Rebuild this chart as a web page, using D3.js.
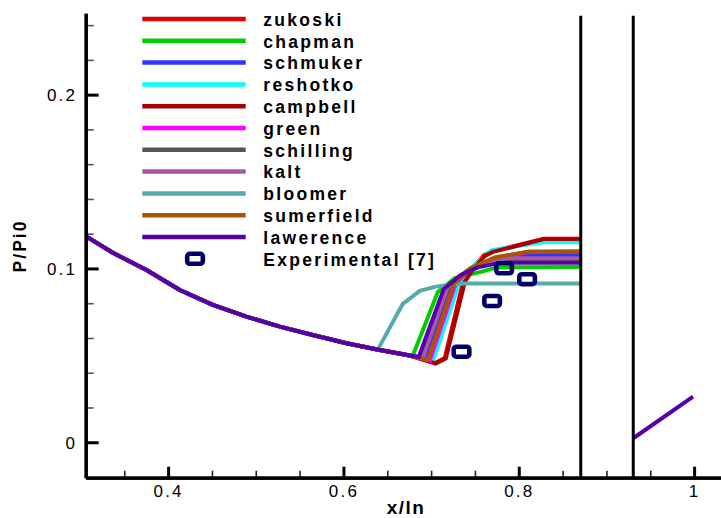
<!DOCTYPE html>
<html>
<head>
<meta charset="utf-8">
<script src="https://cdn.jsdelivr.net/npm/d3@7"></script>
<style>
    body { margin: 0; background: #fff; }
    svg { display: block; font-family: "Liberation Sans", Arial, sans-serif; }
</style>
</head>
<body>
<div id="chart"></div>
<script>
// shared upstream branch (before the shock)
let upstreamX = [0.3069, 0.3369, 0.3754, 0.4133, 0.4510, 0.4894, 0.5274, 0.5650, 0.6035, 0.6415, 0.6757];
let upstreamY = [0.1183, 0.1090, 0.0991, 0.0876, 0.0790, 0.0723, 0.0665, 0.0617, 0.0570, 0.0531, 0.0499];

// downstream branch behind the second wall
let downstreamX = [0.9306, 0.9988];
let downstreamY = [0.0023, 0.0262];

let names = ["zukoski", "chapman", "schmuker", "reshotko", "campbell", "green",
             "schilling", "kalt", "bloomer", "sumerfield", "lawerence"];
let colors = ["#dd0000", "#00cc00", "#3333ff", "#00ffff", "#aa0000", "#ff00ff",
              "#555555", "#aa55aa", "#55aaaa", "#aa5500", "#5500aa"];

// shock region of every correlation
let shockX = [
    [0.7042, 0.7156, 0.7362, 0.7453, 0.7601, 0.7692, 0.8285, 0.8708], // zukoski
    [0.6791, 0.7077, 0.7271, 0.7579, 0.7750, 0.8708],                 // chapman
    [0.6939, 0.7224, 0.7407, 0.7624, 0.7921, 0.8708],                 // schmuker
    [0.7019, 0.7327, 0.7487, 0.7692, 0.8274, 0.8708],                 // reshotko
    [0.7053, 0.7168, 0.7385, 0.7464, 0.7613, 0.7704, 0.8297, 0.8708], // campbell
    [0.6985, 0.7282, 0.7462, 0.7745, 0.8120, 0.8708],                 // green
    [0.6882, 0.7168, 0.7362, 0.7556, 0.7818, 0.8708],                 // schilling
    [0.6905, 0.7191, 0.7385, 0.7590, 0.7853, 0.8708],                 // kalt
    [0.6392, 0.6677, 0.6871, 0.7042, 0.7190, 0.7384, 0.8708],         // bloomer
    [0.6962, 0.7259, 0.7442, 0.7727, 0.8103, 0.8708],                 // sumerfield
    [0.6859, 0.7145, 0.7339, 0.7533, 0.7784, 0.8708]                  // lawerence
];
let shockY = [
    [0.0456, 0.0485, 0.0917, 0.0991, 0.1075, 0.1098, 0.1171, 0.1171],
    [0.0498, 0.0865, 0.0944, 0.0982, 0.1006, 0.1009],
    [0.0482, 0.0899, 0.0986, 0.1035, 0.1077, 0.1078],
    [0.0465, 0.0925, 0.1017, 0.1106, 0.1150, 0.1151],
    [0.0453, 0.0482, 0.0922, 0.0986, 0.1072, 0.1095, 0.1170, 0.1170],
    [0.0470, 0.0915, 0.1002, 0.1064, 0.1096, 0.1097],
    [0.0488, 0.0888, 0.0968, 0.1014, 0.1043, 0.1044],
    [0.0485, 0.0894, 0.0977, 0.1023, 0.1058, 0.1059],
    [0.0533, 0.0796, 0.0871, 0.0894, 0.0905, 0.0913, 0.0913],
    [0.0474, 0.0911, 0.1000, 0.1063, 0.1096, 0.1097],
    [0.0491, 0.0882, 0.0963, 0.1006, 0.1032, 0.1033]
];

let expX = [0.7347, 0.7696, 0.7833, 0.8095];
let expY = [0.0521, 0.0813, 0.1001, 0.0938];
let expLabel = "Experimental [7]";

let wallX = [0.8707, 0.9306];

let xMajor = [0.4, 0.6, 0.8, 1.0];
let yMajor = [0, 0.1, 0.2];

const W = 721, H = 518;

let x = d3.scaleLinear()
    .domain([0.306, 1.03])
    .range([85.7, 720.4]);
let y = d3.scaleLinear()
    .domain([-0.0204, 0.2468])
    .range([477.7, 13.3]);

let svg = d3.select("#chart")
    .append("svg")
        .attr("width", W)
        .attr("height", H);

let line = d3.line()
    .x(d => x(d[0]))
    .y(d => y(d[1]));

// series: upstream part up to where each curve leaves it, then its own shock points
let series = names.map((n, i) => {
    let pts = [];
    upstreamX.forEach((ux, j) => {
        if (ux < shockX[i][0]) pts.push([ux, upstreamY[j]]);
    });
    shockX[i].forEach((sx, j) => pts.push([sx, shockY[i][j]]));
    return {name: n, color: colors[i], pts: pts};
});

svg.append("g")
    .selectAll("path")
    .data(series)
    .enter()
    .append("path")
        .attr("fill", "none")
        .attr("stroke", d => d.color)
        .attr("stroke-width", 4)
        .attr("d", d => line(d.pts));

svg.append("path")
    .datum(downstreamX.map((v, i) => [v, downstreamY[i]]))
    .attr("fill", "none")
    .attr("stroke", colors[colors.length - 1])
    .attr("stroke-width", 4)
    .attr("d", line);

// experimental points
svg.append("g")
    .selectAll("rect")
    .data(expX.map((v, i) => [v, expY[i]]))
    .enter()
    .append("rect")
        .attr("x", d => x(d[0]) - 7.8)
        .attr("y", d => y(d[1]) - 5)
        .attr("width", 15.6)
        .attr("height", 10)
        .attr("rx", 2.5)
        .attr("fill", "none")
        .attr("stroke", "#000066")
        .attr("stroke-width", 4.6);

// walls
svg.append("g")
    .selectAll("line")
    .data(wallX)
    .enter()
    .append("line")
        .attr("x1", d => x(d))
        .attr("x2", d => x(d))
        .attr("y1", y.range()[1] + 2.5)
        .attr("y2", y.range()[0])
        .attr("stroke", "#000")
        .attr("stroke-width", 3);

// axes
let xMinor = d3.range(0.35, 1.0001, 0.05).filter(v => !xMajor.some(m => Math.abs(m - v) < 1e-6));
let yMinor = d3.range(0.02, 0.2401, 0.02).filter(v => !yMajor.some(m => Math.abs(m - v) < 1e-6));

let xAxisMajor = d3.axisBottom(x).tickValues(xMajor).tickSizeInner(-11).tickSizeOuter(0)
    .tickFormat(d => d === 1 ? "1" : d3.format(".1f")(d)).tickPadding(7);
let xAxisMinor = d3.axisBottom(x).tickValues(xMinor).tickSizeInner(-7).tickSizeOuter(0).tickFormat("");
let yAxisMajor = d3.axisLeft(y).tickValues(yMajor).tickSizeInner(-13).tickSizeOuter(0)
    .tickFormat(d => d === 0 ? "0" : d3.format(".1f")(d)).tickPadding(8.5);
let yAxisMinor = d3.axisLeft(y).tickValues(yMinor).tickSizeInner(-8).tickSizeOuter(0).tickFormat("");

let gx = svg.append("g").attr("transform", `translate(0,${y.range()[0]})`);
let gxMinor = gx.append("g").call(xAxisMinor);
let gxMajor = gx.append("g").call(xAxisMajor);
let gy = svg.append("g").attr("transform", `translate(${x.range()[0]},0)`);
let gyMinor = gy.append("g").call(yAxisMinor);
let gyMajor = gy.append("g").call(yAxisMajor);

svg.selectAll(".domain").attr("stroke", "#000").attr("stroke-width", 3.2);
gxMinor.selectAll(".tick line").attr("stroke", "#222").attr("stroke-width", 1.6);
gyMinor.selectAll(".tick line").attr("stroke", "#555").attr("stroke-width", 1.6);
gxMajor.selectAll(".tick line").attr("stroke", "#000").attr("stroke-width", 3);
gyMajor.selectAll(".tick line").attr("stroke", "#000").attr("stroke-width", 3);
svg.selectAll(".tick text")
    .attr("fill", "#000")
    .style("font-size", "17px")
    .style("letter-spacing", "2.2px")
    .style("font-family", "'Liberation Sans', Arial, sans-serif");
gyMajor.selectAll(".tick text").attr("dy", "0.36em");

// axis titles
svg.append("text")
    .attr("x", 406)
    .attr("y", 514)
    .attr("text-anchor", "middle")
    .style("font-size", "19px")
    .style("font-weight", "bold")
    .style("letter-spacing", "1.5px")
    .text("x/ln");

svg.append("text")
    .attr("transform", "translate(26,246) rotate(-90)")
    .attr("text-anchor", "middle")
    .style("font-size", "17.5px")
    .style("font-weight", "bold")
    .style("letter-spacing", "2px")
    .text("P/Pi0");

// legend
let legend = svg.append("g");
let rowY = i => 19 + i * 21.8;
series.forEach((s, i) => {
    legend.append("line")
        .attr("x1", 142.3).attr("x2", 245.7)
        .attr("y1", rowY(i)).attr("y2", rowY(i))
        .attr("stroke", s.color)
        .attr("stroke-width", 4.5);
});
legend.append("rect")
    .attr("x", 195 - 7.8)
    .attr("y", rowY(names.length) - 5)
    .attr("width", 15.6)
    .attr("height", 10)
    .attr("rx", 2.5)
    .attr("fill", "none")
    .attr("stroke", "#000066")
    .attr("stroke-width", 4.6);
legend.selectAll("text")
    .data(names.concat([expLabel]))
    .enter()
    .append("text")
        .attr("x", 263.3)
        .attr("y", (d, i) => rowY(i) + 6.8)
        .style("font-size", "17.5px")
        .style("font-weight", "bold")
        .style("letter-spacing", "2.3px")
        .text(d => d);
</script>
</body>
</html>
